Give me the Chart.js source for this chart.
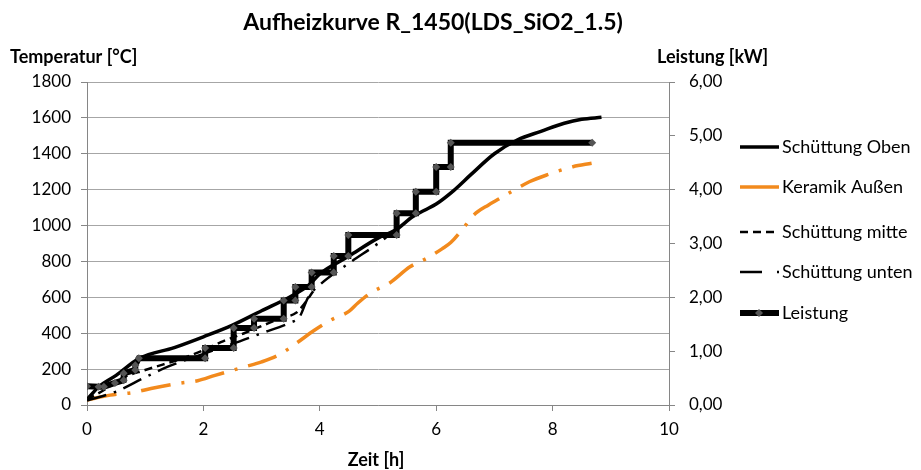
<!DOCTYPE html>
<html>
<head>
<meta charset="utf-8">
<script src="https://cdn.jsdelivr.net/npm/chart.js@4.4.1/dist/chart.umd.min.js"></script>
<style>
  html, body { margin: 0; padding: 0; background: #fff; }
  #wrap { width: 921px; height: 470px; position: relative; }
</style>
</head>
<body>
<div id="wrap"><canvas id="heatChart" width="921" height="470"></canvas></div>
<script>
// texts
const chartTitle = "Aufheizkurve R_1450(LDS_SiO2_1.5)";
const leftAxisTitle = "Temperatur [°C]";
const rightAxisTitle = "Leistung [kW]";
const xAxisTitle = "Zeit [h]";

// Schüttung Oben
const obenZeit = [0, 0.2, 0.5, 0.9, 1.5, 2.0, 2.5, 3.0, 3.5, 3.8, 4.0, 4.5, 5.0, 5.3, 5.6, 5.8, 6.0, 6.3, 6.6, 7.0, 7.4, 7.8, 8.2, 8.5, 8.84];
const obenTemp = [30, 100, 165, 260, 320, 380, 445, 525, 605, 665, 730, 830, 930, 975, 1050, 1085, 1120, 1195, 1285, 1400, 1478, 1525, 1570, 1592, 1603];

// Keramik Außen
const keramikZeit = [0, 0.4, 0.8, 1.1, 1.6, 1.9, 2.2, 2.7, 3.0, 3.3, 3.6, 3.9, 4.2, 4.5, 4.65, 4.9, 5.2, 5.55, 5.85, 6.1, 6.25, 6.5, 6.65, 6.9, 7.1, 7.35, 7.6, 7.9, 8.35, 8.67];
const keramikTemp = [28, 55, 70, 92, 122, 135, 165, 212, 240, 280, 345, 415, 475, 522, 567, 630, 680, 770, 820, 870, 905, 1000, 1060, 1115, 1152, 1200, 1244, 1282, 1328, 1347];

// Schüttung mitte
const mitteZeit = [0, 0.3, 0.6, 1.0, 1.3, 1.6, 2.0, 2.3, 2.7, 3.0, 3.3, 3.6, 3.7, 3.9];
const mitteTemp = [30, 85, 150, 195, 225, 255, 305, 350, 400, 440, 480, 515, 550, 640];

// Schüttung unten
const untenZeit = [0, 0.5, 1.0, 1.4, 2.0, 2.5, 3.0, 3.5, 3.65, 3.8, 4.0, 4.5, 5.0, 5.4];
const untenTemp = [25, 75, 155, 215, 285, 340, 400, 460, 490, 600, 670, 790, 900, 1000];

// Leistung (kW, right axis)
const leistungZeit = [0, 0.2, 0.29, 0.48, 0.63, 0.63, 0.83, 0.83, 0.89, 2.03, 2.03, 2.52, 2.52, 2.87, 2.87, 3.38, 3.38, 3.58, 3.58, 3.86, 3.86, 4.24, 4.24, 4.49, 4.49, 5.32, 5.32, 5.65, 5.65, 6.0, 6.0, 6.25, 6.25, 8.68];
const leistungKW = [0.35, 0.34, 0.34, 0.41, 0.46, 0.59, 0.65, 0.74, 0.87, 0.87, 1.06, 1.06, 1.43, 1.43, 1.60, 1.60, 1.94, 1.94, 2.19, 2.19, 2.46, 2.46, 2.77, 2.77, 3.16, 3.16, 3.56, 3.56, 3.96, 3.96, 4.42, 4.42, 4.87, 4.87];

function toPoints(xs, ys) {
    return xs.map((x, i) => ({ x: x, y: ys[i] }));
}

const FONT = "Lato, 'Open Sans', sans-serif";
const gridGray = "#a6a6a6";
const axisGray = "#868686";
const orange = "#f28a1d";

// legend rows (y positions of the right-hand legend)
const legendY = [147, 187, 232, 272, 313];

const textPlugin = {
    id: "texts",
    afterDraw(chart) {
        const ctx = chart.ctx;
        ctx.save();
        ctx.fillStyle = "#000";
        ctx.textBaseline = "middle";

        ctx.font = "bold 23px " + FONT;
        ctx.textAlign = "center";
        ctx.fillText(chartTitle, 433, 23);

        ctx.font = "bold 18px " + FONT;
        ctx.textAlign = "left";
        ctx.fillText(leftAxisTitle, 10, 57);
        ctx.fillText(rightAxisTitle, 657, 57);
        ctx.textAlign = "center";
        ctx.fillText(xAxisTitle, 376, 460);

        // legend
        ctx.font = "18px " + FONT;
        ctx.textAlign = "left";
        chart.data.datasets.forEach((ds, i) => {
            const y = legendY[i];
            ctx.save();
            ctx.strokeStyle = ds.borderColor;
            ctx.lineWidth = ds.borderWidth;
            ctx.setLineDash(ds.legendDash || []);
            ctx.beginPath();
            ctx.moveTo(740, y);
            ctx.lineTo(779, y);
            ctx.stroke();
            if (ds.pointRadius > 0) {
                ctx.setLineDash([]);
                ctx.fillStyle = ds.pointBackgroundColor;
                ctx.beginPath();
                ctx.moveTo(759, y - 4);
                ctx.lineTo(763, y);
                ctx.lineTo(759, y + 4);
                ctx.lineTo(755, y);
                ctx.closePath();
                ctx.fill();
            }
            ctx.restore();
            ctx.fillText(ds.label, 782, y);
        });
        ctx.restore();
    }
};

new Chart("heatChart", {
    type: "line",
    data: {
        datasets: [{
            label: "Schüttung Oben",
            data: toPoints(obenZeit, obenTemp),
            borderColor: "#000",
            borderWidth: 3.5,
            pointRadius: 0,
            cubicInterpolationMode: "monotone",
            yAxisID: "y",
            order: 4
        }, {
            label: "Keramik Außen",
            data: toPoints(keramikZeit, keramikTemp),
            borderColor: orange,
            borderWidth: 3.5,
            borderDash: [30, 11, 3, 11],
            legendDash: [],
            pointRadius: 0,
            cubicInterpolationMode: "monotone",
            yAxisID: "y",
            order: 3
        }, {
            label: "Schüttung mitte",
            data: toPoints(mitteZeit, mitteTemp),
            borderColor: "#000",
            borderWidth: 2.5,
            borderDash: [8, 5],
            legendDash: [8, 5],
            pointRadius: 0,
            cubicInterpolationMode: "monotone",
            yAxisID: "y",
            order: 2
        }, {
            label: "Schüttung unten",
            data: toPoints(untenZeit, untenTemp),
            borderColor: "#000",
            borderWidth: 2.5,
            borderDash: [20, 8, 2.5, 8],
            legendDash: [22, 15, 2.5, 8],
            pointRadius: 0,
            cubicInterpolationMode: "monotone",
            yAxisID: "y",
            order: 1
        }, {
            label: "Leistung",
            data: toPoints(leistungZeit, leistungKW),
            borderColor: "#000",
            borderWidth: 6,
            pointStyle: "rectRot",
            pointRadius: 4,
            pointBackgroundColor: "#555",
            pointBorderColor: "#555",
            pointBorderWidth: 0,
            tension: 0,
            yAxisID: "y1",
            order: 0
        }]
    },
    options: {
        responsive: false,
        animation: false,
        layout: { padding: { top: 82, left: 0, right: 0, bottom: 0 } },
        plugins: {
            legend: { display: false },
            tooltip: { enabled: false }
        },
        scales: {
            x: {
                type: "linear",
                min: 0,
                max: 10,
                afterFit(scale) { scale.height = 65; },
                ticks: { stepSize: 2, color: "#000", font: { family: FONT, size: 17 }, padding: 8, maxRotation: 0 },
                grid: { drawOnChartArea: false, drawTicks: true, tickLength: 6, color: axisGray },
                border: { color: axisGray }
            },
            y: {
                position: "left",
                min: 0,
                max: 1800,
                afterFit(scale) { scale.width = 87; },
                ticks: {
                    stepSize: 200,
                    color: "#000",
                    font: { family: FONT, size: 17 },
                    padding: 10,
                    callback: v => String(v)
                },
                grid: { color: gridGray, tickLength: 6, tickColor: axisGray },
                border: { color: axisGray }
            },
            y1: {
                position: "right",
                min: 0,
                max: 6,
                afterFit(scale) { scale.width = 252; },
                ticks: {
                    stepSize: 1,
                    color: "#000",
                    font: { family: FONT, size: 17 },
                    padding: 14,
                    callback: v => v.toFixed(2).replace(".", ",")
                },
                grid: { drawOnChartArea: false, tickLength: 6, color: axisGray },
                border: { color: axisGray }
            }
        }
    },
    plugins: [textPlugin]
});
</script>
</body>
</html>
